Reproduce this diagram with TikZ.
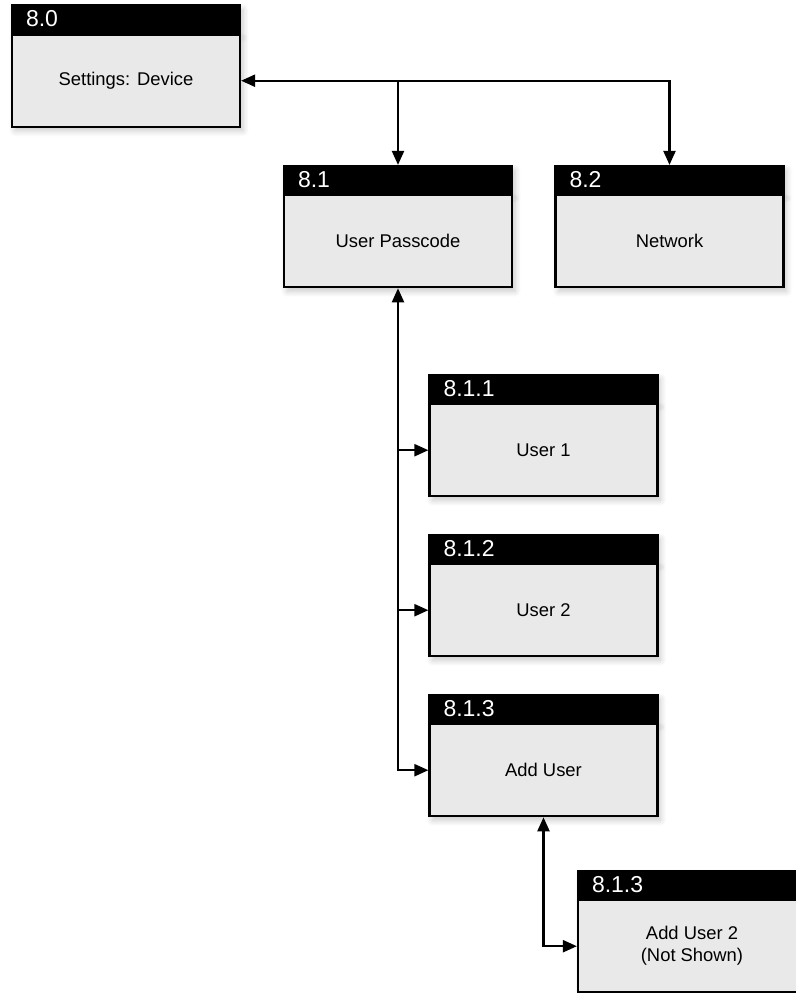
\documentclass[tikz,border=0pt]{standalone}
\usepackage{fontspec}
\setmainfont{Liberation Sans}
\usetikzlibrary{arrows.meta,positioning,shadows.blur}
\definecolor{bodygray}{RGB}{233,233,233}

\begin{document}
\begin{tikzpicture}[
    x=0.5pt, y=-0.5pt,
    >={Triangle[length=7pt,width=6pt]},
    boxshadow/.style={blur shadow={shadow xshift=1.5pt, shadow yshift=-2pt, shadow blur radius=3pt, shadow blur steps=6, shadow opacity=22}},
    head/.style={draw=black, fill=black, line width=1.1pt, minimum height=13.5pt, text width=100pt,
                 inner xsep=7pt, inner ysep=0pt, align=left, text=white, font=\fontsize{11.5}{13}\selectfont, boxshadow},
    body/.style={draw=black, fill=bodygray, line width=1.1pt, minimum width=114pt, minimum height=46pt,
                 inner sep=2pt, align=center, font=\fontsize{9.2}{11}\selectfont, boxshadow},
    arr/.style={->, line width=1.1pt},
    twoway/.style={<->, line width=1.1pt},
]
\useasboundingbox (0,0) rectangle (796,993);

% ---- top level ----
\node[head] (h80) at (126,19) {8.0};
\node[body, below=0pt of h80] (b80) {Settings: Device};

% ---- second level ----
\node[head] (h81) at (398,179.5) {8.1};
\node[body, below=0pt of h81] (b81) {User Passcode};

\node[head] (h82) at (669.5,179.5) {8.2};
\node[body, below=0pt of h82] (b82) {Network};

% ---- users ----
\node[head] (h811) at (543.5,388.5) {8.1.1};
\node[body, below=0pt of h811] (b811) {User 1};

\node[head] (h812) at (543.5,548.5) {8.1.2};
\node[body, below=0pt of h812] (b812) {User 2};

\node[head] (h813) at (543.5,708.5) {8.1.3};
\node[body, below=0pt of h813] (b813) {Add User};

\node[head] (h813b) at (692,884.5) {8.1.3};
\node[body, below=0pt of h813b] (b813b) {Add User 2\\(Not Shown)};

% ---- connectors ----
\draw[twoway] (b80.east) -| (h82.north);
\draw[arr] (b80.east -| h81.north) -- (h81.north);

\draw[twoway] (b81.south) |- (b813.west);
\draw[arr] (b81.south |- b811.west) -- (b811.west);
\draw[arr] (b81.south |- b812.west) -- (b812.west);

\draw[twoway] (b813.south) |- (b813b.west);

\end{tikzpicture}
\end{document}
